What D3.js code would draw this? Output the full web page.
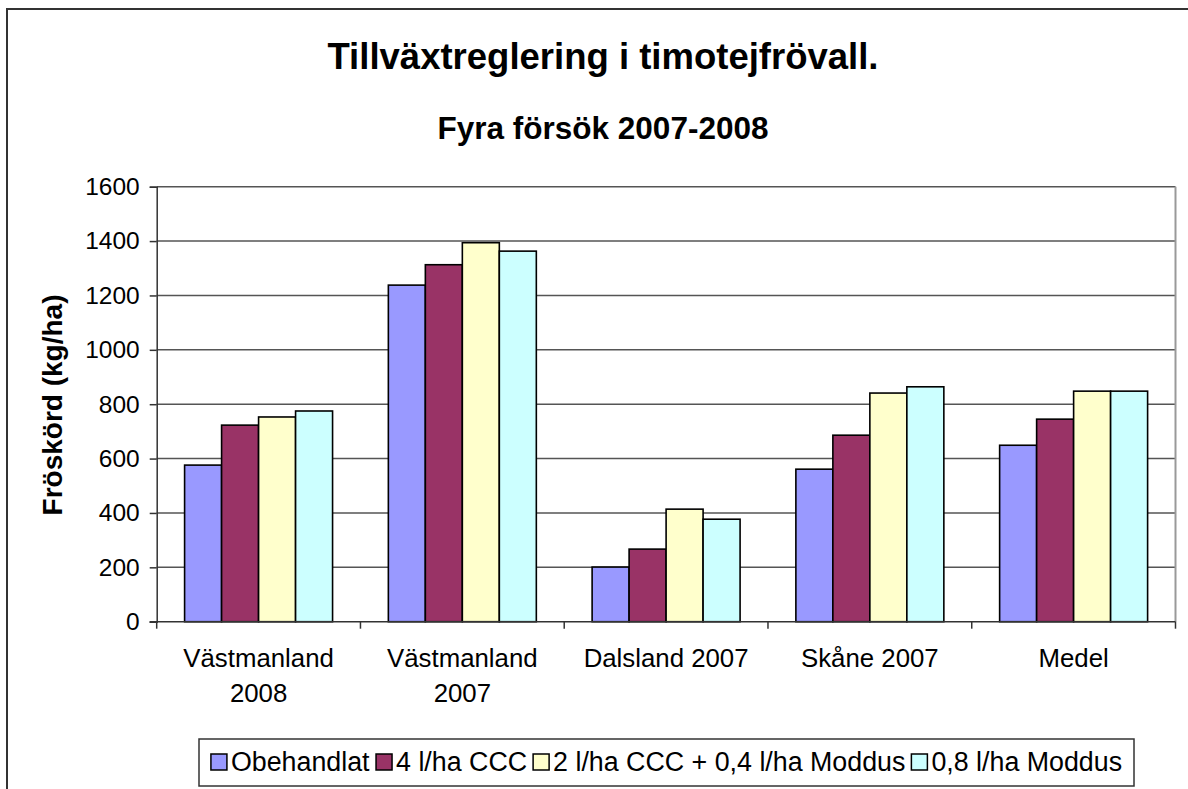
<!DOCTYPE html>
<html>
<head>
<meta charset="utf-8">
<script src="https://cdn.jsdelivr.net/npm/d3@7"></script>
<style>
  html, body { margin: 0; padding: 0; background: #fff; }
  svg { display: block; font-family: "Liberation Sans", Arial, sans-serif; }
</style>
</head>
<body>
<svg id="chart" width="1188" height="789"></svg>
<script>
const categories = [["Västmanland", "2008"], ["Västmanland", "2007"], ["Dalsland 2007"], ["Skåne 2007"], ["Medel"]];
const seriesNames = ["Obehandlat", "4 l/ha CCC", "2 l/ha CCC + 0,4 l/ha Moddus", "0,8 l/ha Moddus"];
const seriesColors = ["#9999FF", "#993366", "#FFFFCC", "#CCFFFF"];
const obehandlat = [576, 1238, 201, 561, 649];
const ccc4 = [723, 1313, 267, 686, 745];
const cccModdus = [753, 1394, 414, 841, 848];
const moddus08 = [775, 1363, 377, 864, 848];
const yTicks = [0, 200, 400, 600, 800, 1000, 1200, 1400, 1600];
const titleText = "Tillväxtreglering i timotejfrövall.";
const subtitleText = "Fyra försök 2007-2008";
const yAxisTitle = "Fröskörd (kg/ha)";

const seriesValues = [obehandlat, ccc4, cccModdus, moddus08];
const catKeys = categories.map((c, i) => "c" + i);

const svg = d3.select("#chart");
const plot = { left: 156.7, right: 1175.5, top: 186.7, bottom: 621.7 };

// outer frame
svg.append("rect").attr("x", 7).attr("y", 9).attr("width", 1200).attr("height", 800)
  .attr("fill", "#fff").attr("stroke", "#333").attr("stroke-width", 2);

// titles
svg.append("text").attr("x", 603).attr("y", 69).attr("text-anchor", "middle")
  .attr("font-size", 36.5).attr("font-weight", "bold").text(titleText);
svg.append("text").attr("x", 603).attr("y", 139).attr("text-anchor", "middle")
  .attr("font-size", 31.5).attr("font-weight", "bold").text(subtitleText);

const y = d3.scaleLinear().domain([0, 1600]).range([plot.bottom, plot.top]);
const x0 = d3.scaleBand().domain(catKeys).range([plot.left, plot.right]).padding(0);
const x1 = d3.scaleBand().domain(d3.range(seriesNames.length)).range([0, x0.bandwidth()])
  .paddingInner(0).paddingOuter(0.754);

// gridlines
const g = svg.append("g");
g.selectAll("line.grid").data(yTicks.filter(d => d > 0)).join("line")
  .attr("x1", plot.left).attr("x2", plot.right)
  .attr("y1", d => y(d)).attr("y2", d => y(d))
  .attr("stroke", "#555").attr("stroke-width", 1.5);
// right border of plot area
g.append("line").attr("x1", plot.right).attr("x2", plot.right)
  .attr("y1", plot.top).attr("y2", plot.bottom).attr("stroke", "#999").attr("stroke-width", 2);

// bars
const groups = svg.append("g").selectAll("g").data(catKeys).join("g")
  .attr("transform", d => `translate(${x0(d)},0)`);
groups.selectAll("rect").data((d, ci) => seriesValues.map((s, si) => ({ si, v: s[ci] }))).join("rect")
  .attr("x", d => x1(d.si)).attr("width", x1.bandwidth())
  .attr("y", d => y(d.v)).attr("height", d => y(0) - y(d.v))
  .attr("fill", d => seriesColors[d.si]).attr("stroke", "#000").attr("stroke-width", 1.6);

// y axis
const yAxis = d3.axisLeft(y).tickValues(yTicks).tickSize(7).tickPadding(10).tickFormat(d3.format("d"));
const ya = svg.append("g").attr("transform", `translate(${plot.left},0)`).call(yAxis);
ya.select(".domain").attr("stroke", "#333").attr("stroke-width", 1.5);
ya.selectAll(".tick line").attr("stroke", "#333").attr("stroke-width", 1.5);
ya.selectAll(".tick text").attr("font-size", 24.5).attr("fill", "#000")
  .attr("font-family", "Liberation Sans, Arial, sans-serif");

// x axis
const xa = svg.append("g").attr("transform", `translate(0,${plot.bottom})`);
xa.append("line").attr("x1", plot.left - 7).attr("x2", plot.right)
  .attr("stroke", "#333").attr("stroke-width", 1.5);
const boundaries = catKeys.map(k => x0(k)).concat([plot.right]);
xa.selectAll("line.tk").data(boundaries).join("line")
  .attr("x1", d => d).attr("x2", d => d).attr("y1", 0).attr("y2", 7)
  .attr("stroke", "#333").attr("stroke-width", 1.5);
const lab = xa.selectAll("text.cat").data(categories).join("text")
  .attr("text-anchor", "middle").attr("font-size", 25.8)
  .attr("transform", (d, i) => `translate(${x0(catKeys[i]) + x0.bandwidth() / 2},45)`);
lab.selectAll("tspan").data(d => d).join("tspan")
  .attr("x", 0).attr("dy", (d, i) => i === 0 ? 0 : 35).text(d => d);

// y title
svg.append("text").attr("transform", "translate(62,405) rotate(-90)")
  .attr("text-anchor", "middle").attr("font-size", 28).attr("font-weight", "bold").text(yAxisTitle);

// legend
const leg = { x: 199, y: 739, w: 935, h: 47 };
svg.append("rect").attr("x", leg.x).attr("y", leg.y).attr("width", leg.w).attr("height", leg.h)
  .attr("fill", "#fff").attr("stroke", "#333").attr("stroke-width", 1.5);
const legG = svg.append("g");
const items = legG.selectAll("g").data(seriesNames).join("g");
items.append("rect").attr("width", 16).attr("height", 16).attr("y", -17)
  .attr("fill", (d, i) => seriesColors[i]).attr("stroke", "#000").attr("stroke-width", 1.5);
items.append("text").attr("x", 20).attr("font-size", 26.8).text(d => d);
let widths = [];
items.each(function () { widths.push(this.getBBox().width); });
const gap = 6;
const total = d3.sum(widths) + gap * (widths.length - 1);
let cx = leg.x + (leg.w - total) / 2;
items.attr("transform", (d, i) => {
  const t = `translate(${cx},${leg.y + 32})`;
  cx += widths[i] + gap;
  return t;
});
</script>
</body>
</html>
